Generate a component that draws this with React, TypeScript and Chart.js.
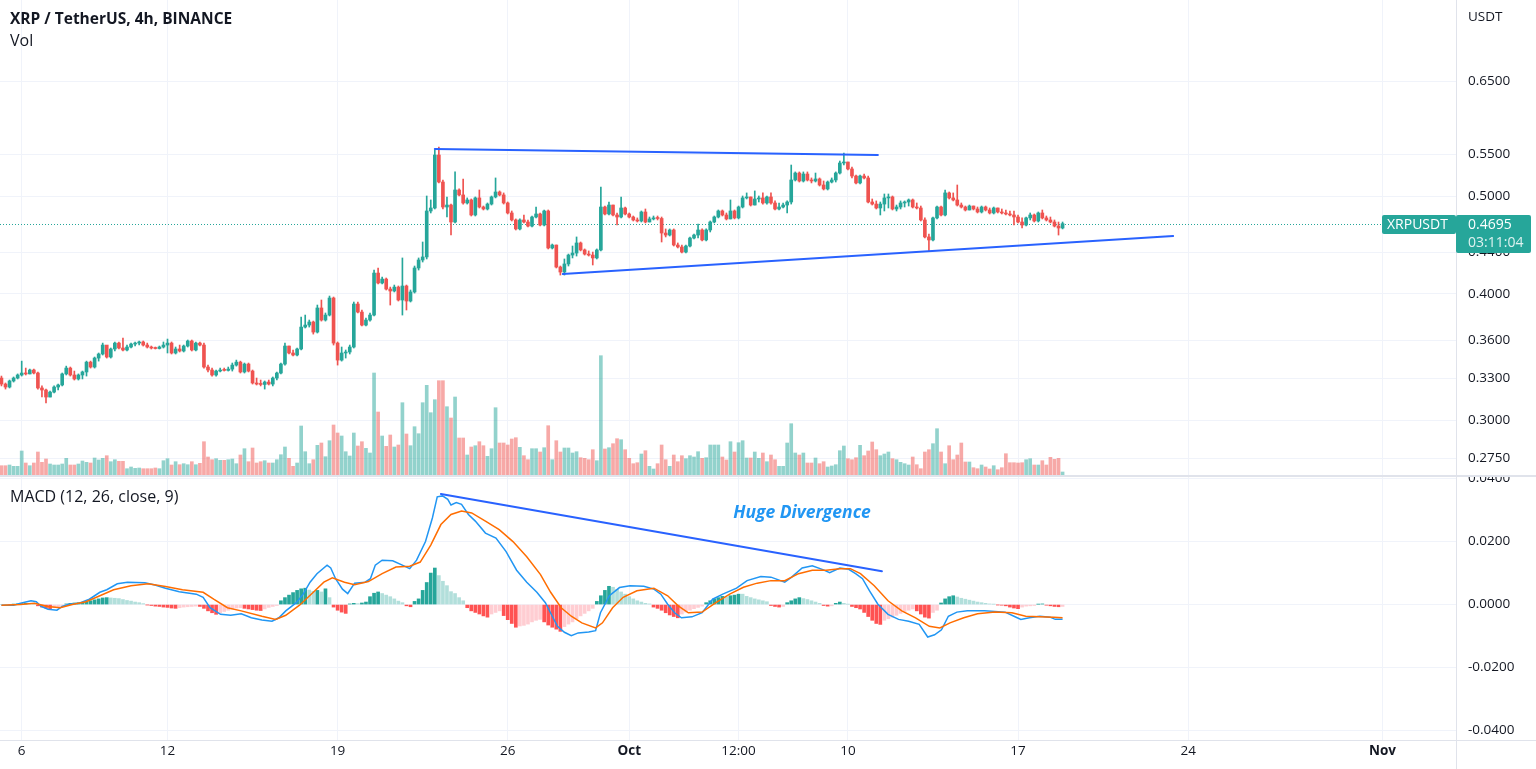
import React, { useEffect, useRef } from "react";
import { Chart, registerables } from "chart.js";

Chart.register(...registerables);

// ================= DATA =================
// 4h candles, index 0 = Sep 5 04:00, last index = Oct 18 20:00
const firstOpen = 0.3302;
const closes = [
  0.3257,0.3235,0.3280,0.3302,0.3325,0.3340,0.3333,0.3363,0.3340,0.3228,
  0.3213,0.3162,0.3198,0.3235,0.3250,0.3333,0.3378,0.3325,0.3295,0.3325,
  0.3348,0.3424,0.3386,0.3456,0.3488,0.3560,0.3464,0.3528,0.3576,0.3536,
  0.3520,0.3544,0.3568,0.3576,0.3585,0.3560,0.3544,0.3536,0.3532,0.3544,
  0.3560,0.3576,0.3496,0.3528,0.3512,0.3552,0.3593,0.3520,0.3576,0.3560,
  0.3386,0.3363,0.3325,0.3355,0.3363,0.3360,0.3370,0.3401,0.3424,0.3348,
  0.3409,0.3355,0.3265,0.3257,0.3254,0.3272,0.3257,0.3302,0.3340,0.3409,
  0.3552,0.3496,0.3480,0.3528,0.3709,0.3726,0.3752,0.3667,0.3874,0.3769,
  0.3812,0.3963,0.3576,0.3440,0.3496,0.3504,0.3544,0.3909,0.3838,0.3726,
  0.3769,0.3812,0.4195,0.4101,0.4138,0.4045,0.4027,0.4063,0.3945,0.4073,
  0.3936,0.4018,0.4244,0.4322,0.4352,0.4833,0.4866,0.5491,0.5163,0.4877,
  0.4899,0.4713,0.5070,0.5013,0.4922,0.4956,0.4789,0.4979,0.4877,0.4855,
  0.4910,0.4990,0.5047,0.5013,0.4922,0.4811,0.4735,0.4639,0.4735,0.4713,
  0.4670,0.4767,0.4800,0.4681,0.4833,0.4442,0.4472,0.4253,0.4205,0.4283,
  0.4371,0.4391,0.4493,0.4422,0.4381,0.4371,0.4342,0.4422,0.4877,0.4800,
  0.4899,0.4789,0.4767,0.4866,0.4800,0.4767,0.4735,0.4724,0.4822,0.4713,
  0.4746,0.4757,0.4751,0.4596,0.4575,0.4628,0.4472,0.4452,0.4401,0.4462,
  0.4544,0.4575,0.4628,0.4524,0.4628,0.4713,0.4767,0.4833,0.4789,0.4746,
  0.4833,0.4757,0.4877,0.4979,0.4990,0.4899,0.4967,0.4979,0.4922,0.4990,
  0.4922,0.4855,0.4877,0.4899,0.4933,0.5187,0.5270,0.5175,0.5258,0.5187,
  0.5175,0.5199,0.5128,0.5082,0.5163,0.5187,0.5270,0.5392,0.5404,0.5319,
  0.5234,0.5152,0.5234,0.5211,0.4933,0.4910,0.4866,0.4910,0.4979,0.4990,
  0.4855,0.4877,0.4922,0.4933,0.4956,0.4877,0.4866,0.4735,0.4555,0.4524,
  0.4757,0.4877,0.4789,0.5036,0.4979,0.4956,0.4899,0.4877,0.4844,0.4888,
  0.4855,0.4822,0.4877,0.4844,0.4811,0.4866,0.4822,0.4811,0.4800,0.4789,
  0.4767,0.4713,0.4681,0.4757,0.4789,0.4724,0.4811,0.4757,0.4735,0.4713,
  0.4670,0.4649,0.4695,
];
const highs = [
  0.3317,0.3265,0.3287,0.3310,0.3333,0.3432,0.3378,0.3370,0.3370,0.3348,
  0.3243,0.3220,0.3206,0.3243,0.3257,0.3340,0.3393,0.3386,0.3355,0.3333,
  0.3355,0.3432,0.3432,0.3464,0.3496,0.3576,0.3544,0.3536,0.3585,0.3585,
  0.3617,0.3560,0.3576,0.3585,0.3593,0.3593,0.3576,0.3552,0.3544,0.3552,
  0.3585,0.3609,0.3585,0.3544,0.3560,0.3560,0.3601,0.3601,0.3585,0.3585,
  0.3576,0.3401,0.3378,0.3363,0.3378,0.3378,0.3386,0.3417,0.3440,0.3432,
  0.3417,0.3417,0.3363,0.3302,0.3287,0.3280,0.3287,0.3310,0.3348,0.3417,
  0.3576,0.3552,0.3520,0.3536,0.3795,0.3812,0.3769,0.3760,0.3900,0.3945,
  0.3830,0.3981,0.3972,0.3585,0.3544,0.3520,0.3560,0.3927,0.3927,0.3856,
  0.3786,0.3830,0.4224,0.4244,0.4157,0.4148,0.4063,0.4082,0.4073,0.4342,
  0.4082,0.4036,0.4263,0.4342,0.4503,0.5001,0.4956,0.5554,0.5591,0.5187,
  0.4990,0.4910,0.5283,0.5082,0.5199,0.4979,0.4967,0.4990,0.5070,0.4888,
  0.4922,0.5001,0.5211,0.5059,0.5036,0.4933,0.4833,0.4746,0.4746,0.4789,
  0.4735,0.4778,0.4877,0.4811,0.4844,0.4844,0.4482,0.4472,0.4263,0.4332,
  0.4381,0.4462,0.4555,0.4503,0.4432,0.4412,0.4401,0.4432,0.5105,0.4888,
  0.4933,0.4899,0.4811,0.4990,0.4877,0.4811,0.4778,0.4757,0.4833,0.4855,
  0.4767,0.4778,0.4778,0.4767,0.4639,0.4639,0.4639,0.4493,0.4472,0.4472,
  0.4555,0.4586,0.4692,0.4639,0.4639,0.4724,0.4778,0.4844,0.4844,0.4811,
  0.4956,0.4844,0.4888,0.5001,0.5036,0.4990,0.5059,0.5001,0.5036,0.5001,
  0.5036,0.4945,0.4922,0.4922,0.4945,0.5367,0.5283,0.5283,0.5283,0.5283,
  0.5211,0.5270,0.5211,0.5175,0.5175,0.5211,0.5283,0.5416,0.5516,0.5404,
  0.5343,0.5246,0.5246,0.5258,0.5234,0.4967,0.4945,0.4933,0.5024,0.5024,
  0.5001,0.4899,0.4945,0.4945,0.4967,0.4967,0.4922,0.4888,0.4757,0.4586,
  0.4767,0.4888,0.4888,0.5070,0.5047,0.5036,0.5128,0.4922,0.4888,0.4899,
  0.4888,0.4877,0.4888,0.4888,0.4866,0.4877,0.4866,0.4855,0.4844,0.4833,
  0.4833,0.4789,0.4757,0.4767,0.4811,0.4800,0.4822,0.4844,0.4778,0.4767,
  0.4735,0.4713,0.4713,
];
const lows = [
  0.3243,0.3220,0.3228,0.3272,0.3295,0.3317,0.3325,0.3333,0.3333,0.3220,
  0.3162,0.3119,0.3162,0.3191,0.3213,0.3243,0.3325,0.3317,0.3287,0.3287,
  0.3295,0.3317,0.3378,0.3378,0.3432,0.3480,0.3456,0.3456,0.3512,0.3528,
  0.3512,0.3512,0.3536,0.3552,0.3560,0.3552,0.3536,0.3528,0.3528,0.3528,
  0.3536,0.3496,0.3488,0.3488,0.3504,0.3504,0.3544,0.3512,0.3512,0.3552,
  0.3378,0.3348,0.3317,0.3317,0.3348,0.3355,0.3355,0.3355,0.3393,0.3340,
  0.3340,0.3348,0.3257,0.3250,0.3243,0.3220,0.3250,0.3243,0.3287,0.3333,
  0.3401,0.3488,0.3472,0.3472,0.3520,0.3701,0.3709,0.3650,0.3659,0.3760,
  0.3760,0.3804,0.3560,0.3401,0.3432,0.3456,0.3488,0.3536,0.3830,0.3718,
  0.3718,0.3760,0.3804,0.4092,0.4092,0.4036,0.3900,0.4018,0.3936,0.3812,
  0.3856,0.3927,0.4008,0.4224,0.4302,0.4332,0.4811,0.4855,0.5152,0.4855,
  0.4767,0.4575,0.4703,0.5002,0.4910,0.4910,0.4778,0.4778,0.4866,0.4844,
  0.4844,0.4899,0.4979,0.5002,0.4910,0.4800,0.4724,0.4628,0.4628,0.4703,
  0.4660,0.4660,0.4757,0.4670,0.4670,0.4432,0.4432,0.4244,0.4176,0.4176,
  0.4263,0.4342,0.4361,0.4412,0.4371,0.4361,0.4273,0.4332,0.4412,0.4789,
  0.4789,0.4778,0.4681,0.4757,0.4789,0.4757,0.4724,0.4713,0.4713,0.4703,
  0.4713,0.4735,0.4735,0.4503,0.4555,0.4565,0.4462,0.4442,0.4391,0.4391,
  0.4452,0.4534,0.4544,0.4513,0.4513,0.4607,0.4703,0.4757,0.4778,0.4735,
  0.4746,0.4746,0.4746,0.4866,0.4967,0.4888,0.4899,0.4933,0.4910,0.4910,
  0.4910,0.4844,0.4844,0.4866,0.4811,0.4910,0.5175,0.5163,0.5163,0.5175,
  0.5152,0.5163,0.5116,0.5070,0.5070,0.5152,0.5163,0.5258,0.5367,0.5307,
  0.5211,0.5140,0.5140,0.5199,0.4922,0.4899,0.4855,0.4789,0.4833,0.4866,
  0.4844,0.4833,0.4855,0.4877,0.4888,0.4866,0.4855,0.4724,0.4544,0.4412,
  0.4513,0.4746,0.4778,0.4778,0.4967,0.4945,0.4888,0.4866,0.4833,0.4844,
  0.4844,0.4811,0.4811,0.4833,0.4800,0.4800,0.4811,0.4800,0.4789,0.4778,
  0.4681,0.4703,0.4649,0.4670,0.4735,0.4713,0.4713,0.4746,0.4724,0.4703,
  0.4660,0.4575,0.4639,
];
// volume per candle (millions)
const volumes = [
  9.3,9.3,10,8.7,8.7,24,12,9.3,12,23,
  12.7,16,11,10,10,11,16.7,10,10,11,
  14,12.7,12,17,15,16.7,19.3,13.3,15.3,13.7,
  13.7,6.3,8,6.7,7,6.3,6.3,6.3,7,6.3,
  14.3,16.3,10,13.3,10.3,11.3,10.3,13.3,10.3,11.7,
  33.3,18,15.3,16.3,14.7,14.7,15.3,16,11.3,20,
  26.3,13.3,27,12,13.3,14.3,12,12,15.3,20.3,
  28,16.7,8.7,12,49,23.3,11.3,15.3,29.7,32,
  18.3,34.3,50,42,39,23.3,19,42,29,33.3,
  26.7,22,102,63,39,28.7,40,28,30,72.3,
  41,29.3,48.3,41.3,72.3,89.7,62.3,75.3,94.3,94.3,
  68.3,57,78,37,37,20,28,29.3,33.3,29.3,
  18.7,26.3,67.3,32,32,30,36,37.3,27.7,19.3,
  15.3,26.3,26.3,23,27.3,49.3,15.3,34.3,23,27,
  27,22,23.3,17.3,16.7,15.3,25.3,14.3,119.3,26,
  27.3,31.3,36.3,35.3,25.3,16.7,11.3,12.3,21,24.3,
  8.7,6,11.3,30,15.3,8.7,20,13.3,19.3,16.3,
  19.3,18,23.3,16.7,17.3,30,30,30,18,15,
  33.3,23,32.3,34.3,17,17,23,16.7,22,13.3,
  20,15.3,8.7,8.7,32,51.3,22,20,22,12,
  12,17,11.3,13.3,8,9,10.3,24.3,29,16.3,
  15.3,17.3,29.7,19.3,24,33,25.3,19.3,21,23,
  16.3,15.3,12.7,11.3,10,18,10.3,6.3,23,25.3,
  31.3,46.3,23,11.3,29.3,15.3,20,32,13,13,
  7.3,6.3,10,8,6,9.3,5.3,7.3,21.3,12.3,
  12.3,12,12.3,15.3,16.3,10,10,14.3,10,17.7,
  15.7,16.7,3,
];
// MACD histogram per candle
const histogram = [
  0.0000,0.0000,-0.0001,0.0001,0.0002,0.0003,0.0004,0.0004,0.0003,-0.0004,
  -0.0008,-0.0011,-0.0013,-0.0010,-0.0007,-0.0004,0.0002,0.0004,0.0005,0.0006,
  0.0007,0.0009,0.0012,0.0015,0.0018,0.0021,0.0022,0.0021,0.0020,0.0019,
  0.0016,0.0013,0.0011,0.0008,0.0006,0.0003,-0.0001,-0.0003,-0.0005,-0.0006,
  -0.0008,-0.0009,-0.0011,-0.0012,-0.0010,-0.0008,-0.0007,-0.0006,-0.0005,-0.0006,
  -0.0012,-0.0020,-0.0026,-0.0031,-0.0026,-0.0022,-0.0018,-0.0014,-0.0011,-0.0010,
  -0.0012,-0.0014,-0.0016,-0.0018,-0.0019,-0.0014,-0.0009,-0.0006,-0.0003,0.0012,
  0.0022,0.0030,0.0038,0.0045,0.0050,0.0052,0.0046,0.0042,0.0045,0.0040,
  0.0050,0.0022,-0.0008,-0.0018,-0.0024,-0.0028,0.0002,0.0004,0.0003,0.0005,
  0.0008,0.0025,0.0036,0.0040,0.0035,0.0030,0.0025,0.0018,0.0011,0.0006,
  -0.0004,-0.0007,0.0010,0.0018,0.0045,0.0070,0.0100,0.0116,0.0092,0.0074,
  0.0060,0.0041,0.0035,0.0022,0.0012,-0.0010,-0.0020,-0.0025,-0.0030,-0.0036,
  -0.0040,-0.0030,-0.0025,-0.0020,-0.0035,-0.0048,-0.0060,-0.0072,-0.0068,-0.0066,
  -0.0062,-0.0055,-0.0050,-0.0047,-0.0055,-0.0065,-0.0072,-0.0078,-0.0085,-0.0070,
  -0.0062,-0.0055,-0.0045,-0.0036,-0.0028,-0.0020,-0.0012,0.0010,0.0028,0.0045,
  0.0058,0.0055,0.0048,0.0040,0.0033,0.0025,0.0018,0.0012,0.0008,0.0004,
  0.0002,-0.0008,-0.0012,-0.0018,-0.0026,-0.0033,-0.0038,-0.0042,-0.0030,-0.0024,
  -0.0018,-0.0013,-0.0009,-0.0005,0.0006,0.0012,0.0018,0.0022,0.0026,0.0024,
  0.0028,0.0030,0.0033,0.0033,0.0026,0.0022,0.0018,0.0015,0.0012,0.0009,
  -0.0003,-0.0006,-0.0008,-0.0006,0.0006,0.0012,0.0018,0.0022,0.0019,0.0016,
  0.0012,0.0008,0.0004,-0.0003,-0.0005,-0.0004,0.0004,0.0008,0.0004,0.0001,
  -0.0006,-0.0010,-0.0014,-0.0025,-0.0038,-0.0050,-0.0060,-0.0063,-0.0050,-0.0045,
  -0.0040,-0.0034,-0.0028,-0.0022,-0.0018,-0.0014,-0.0020,-0.0030,-0.0040,-0.0043,
  -0.0025,-0.0018,0.0005,0.0018,0.0025,0.0028,0.0024,0.0020,0.0017,0.0014,
  0.0011,0.0008,0.0006,0.0004,0.0002,0.0001,-0.0001,-0.0002,-0.0004,-0.0008,
  -0.0011,-0.0013,-0.0008,-0.0005,-0.0004,-0.0003,0.0001,0.0002,-0.0002,-0.0004,
  -0.0006,-0.0007,-0.0006,
];
// MACD line, read at these candle positions
const macdIdx = [
  0,3,4.7,7.3,8.6,9.8,11.5,13.7,15,16.6,19.2,21.7,24.3,26,28.6,31.1,35.4,37.9,40.5,43.9,
  48.1,49.8,51.5,54.1,56.6,59.2,61.7,64.3,66.8,68.5,70.2,72.8,74.5,76.2,77.9,80.4,81.3,82.5,84.2,85.5,
  87.2,89.8,91.1,92.3,94,96.6,98.7,100.8,102.5,104.7,106.4,107.6,108.9,110.2,111,112.3,113.6,115.3,117,119.5,
  122.1,124.6,127.2,129.7,132.2,134.3,136,137.3,139,140.7,142.4,145,146.7,147.9,150.1,152.6,155.2,158.6,161.1,162.8,
  164.5,166.2,167.9,170.5,173,175.6,178.1,181.5,184.1,187.5,190,193.4,195.1,197.7,200.2,202.8,204.5,207,209.2,210.9,
  212.6,214.3,216.4,218.9,221.5,224,226.6,228.7,230.4,232.1,233.8,235.9,238.5,242.7,247.8,250,251.7,253.8,256.4,258.9,
  260.2,262,
];
const macdVal = [
  -0.0002,-0.0002,0.0004,0.0012,0.0009,-0.0006,-0.0015,-0.0018,-0.0006,0.0001,0.0004,0.0017,0.0039,0.0047,0.0066,0.0071,0.0069,0.0062,0.0052,0.0041,
  0.0033,0.0023,-0.0010,-0.0031,-0.0034,-0.0029,-0.0042,-0.0049,-0.0053,-0.0042,-0.0020,0.0006,0.0033,0.0071,0.0098,0.0125,0.0116,0.0082,0.0049,0.0035,
  0.0068,0.0071,0.0082,0.0125,0.0141,0.0139,0.0127,0.0114,0.0141,0.0200,0.0275,0.0342,0.0345,0.0334,0.0316,0.0324,0.0318,0.0286,0.0265,0.0227,
  0.0211,0.0168,0.0109,0.0071,0.0039,0.0006,-0.0037,-0.0069,-0.0088,-0.0099,-0.0090,-0.0087,-0.0083,-0.0026,0.0028,0.0054,0.0060,0.0058,0.0049,0.0033,
  0.0001,-0.0026,-0.0042,-0.0039,-0.0026,0.0017,0.0033,0.0052,0.0076,0.0089,0.0087,0.0071,0.0087,0.0116,0.0123,0.0111,0.0101,0.0116,0.0112,0.0098,
  0.0082,0.0044,0.0001,-0.0031,-0.0047,-0.0053,-0.0063,-0.0103,-0.0096,-0.0080,-0.0037,-0.0024,-0.0020,-0.0020,-0.0024,-0.0037,-0.0047,-0.0042,-0.0037,-0.0040,
  -0.0047,-0.0047,
];
// signal line, read at these candle positions
const signalIdx = [
  0,4.7,8.1,11.5,14.5,17.5,20.9,24.3,27.7,32,36.2,40.5,44.7,49.8,52.4,55.8,59.2,64.3,67.7,70.2,
  73.6,77,79.6,81.7,84.7,87.2,90.6,94,97.4,100.8,103.4,106,108.5,111,113.6,116.1,119.5,122.9,126.3,129.7,
  133.1,135.6,138.2,140.7,143.3,146.7,148.4,150.9,153.5,156.9,161.1,164.5,167.1,169.6,173,176.4,179.8,183.2,186.6,190,
  193.4,196.8,200.2,203.6,207,209.6,212.1,215.5,218.9,222.3,225.7,229.1,231.7,234.2,237.6,241,245.3,249.5,252.9,256.4,
  259.8,262,
];
const signalVal = [
  -0.0002,0.0000,0.0004,-0.0006,-0.0010,0.0000,0.0009,0.0028,0.0047,0.0060,0.0066,0.0057,0.0047,0.0039,0.0017,-0.0010,-0.0020,-0.0037,-0.0047,-0.0034,
  -0.0002,0.0039,0.0071,0.0085,0.0071,0.0063,0.0073,0.0098,0.0119,0.0122,0.0135,0.0189,0.0254,0.0286,0.0297,0.0291,0.0265,0.0238,0.0200,0.0152,
  0.0095,0.0039,-0.0010,-0.0037,-0.0058,-0.0074,-0.0058,-0.0010,0.0023,0.0044,0.0052,0.0028,-0.0004,-0.0026,-0.0024,0.0006,0.0033,0.0055,0.0068,0.0076,
  0.0076,0.0098,0.0109,0.0109,0.0114,0.0114,0.0098,0.0060,0.0012,-0.0020,-0.0042,-0.0069,-0.0074,-0.0058,-0.0042,-0.0029,-0.0024,-0.0026,-0.0037,-0.0039,
  -0.0040,-0.0042,
];
const priceTicks = [0.65, 0.55, 0.5, 0.44, 0.4, 0.36, 0.33, 0.3, 0.275];
const macdTicks = [0.04, 0.02, 0, -0.02, -0.04];
const timeTickIdx = [5, 41, 83, 125, 155, 182, 209, 251, 293, 341];
const timeTickLabels = ["6", "12", "19", "26", "Oct", "12:00", "10", "17", "24", "Nov"];
const lastPrice = 0.4695;
const countdown = "03:11:04";
const symbolLabel = "XRPUSDT";
const titleText = "XRP / TetherUS, 4h, BINANCE";
const volLabel = "Vol";
const currencyLabel = "USDT";
const macdTitle = "MACD (12, 26, close, 9)";
const noteText = "Huge Divergence";
// drawn trend lines: [idx1, value1, idx2, value2]
const resistanceLine = [107.0, 0.5567, 216.4, 0.5491];
const supportLine = [138.6, 0.4186, 289.3, 0.4565];
const macdTrendLine = [108.5, 0.0351, 217.4, 0.0106];

// ================= STYLE / LAYOUT =================
const W = 1536;
const PRICE_H = 476;
const MACD_H = 293;
const AXIS_W = 80;
const X_MIN = -0.358;
const X_MAX = 359.14;
const P_MIN = 0.2647;
const P_MAX = 0.7819;
const VOL_MAX = 475;
const M_MIN = -0.043;
const M_MAX = 0.0405;
const FONT = "'Open Sans', 'DejaVu Sans', sans-serif";
const TEXT = "#131722";
const GRID = "#F0F3FA";
const SEP = "#E0E3EB";
const UP = "#26A69A";
const DOWN = "#EF5350";
const UP_VOL = "rgba(38,166,154,0.5)";
const DOWN_VOL = "rgba(239,83,80,0.5)";
const TREND = "#2962FF";
const MACD_COLOR = "#2196F3";
const SIGNAL_COLOR = "#FF6D00";

const idx = closes.map((_, k) => k);
const opens = closes.map((c, k) => (k === 0 ? firstOpen : closes[k - 1]));
const isUp = idx.map((k) => closes[k] >= opens[k]);

function drawSegment(chart: any, yId: string, seg: number[]) {
  const { ctx, scales } = chart;
  const x1 = scales.x.getPixelForValue(seg[0]);
  const y1 = scales[yId].getPixelForValue(seg[1]);
  const x2 = scales.x.getPixelForValue(seg[2]);
  const y2 = scales[yId].getPixelForValue(seg[3]);
  ctx.save();
  ctx.strokeStyle = TREND;
  ctx.lineWidth = 2;
  ctx.lineCap = "round";
  ctx.beginPath();
  ctx.moveTo(x1, y1);
  ctx.lineTo(x2, y2);
  ctx.stroke();
  ctx.restore();
}

function box(ctx: any, x: number, y: number, w: number, h: number, r: number) {
  ctx.beginPath();
  if (ctx.roundRect) ctx.roundRect(x, y, w, h, r);
  else ctx.rect(x, y, w, h);
  ctx.fill();
}

const priceOverlay = {
  id: "priceOverlay",
  beforeDatasetsDraw(chart: any) {
    const { ctx, chartArea, scales } = chart;
    const y = Math.round(scales.y.getPixelForValue(lastPrice)) + 0.5;
    ctx.save();
    ctx.strokeStyle = UP;
    ctx.lineWidth = 1;
    ctx.setLineDash([1, 2]);
    ctx.beginPath();
    ctx.moveTo(chartArea.left, y);
    ctx.lineTo(chartArea.right, y);
    ctx.stroke();
    ctx.restore();
  },
  afterDatasetsDraw(chart: any) {
    drawSegment(chart, "y", resistanceLine);
    drawSegment(chart, "y", supportLine);
  },
  afterDraw(chart: any) {
    const { ctx, chartArea, scales, width, height } = chart;
    ctx.save();
    ctx.fillStyle = SEP;
    ctx.fillRect(0, height - 1, width, 1);
    ctx.fillRect(chartArea.right, 0, 1, height);
    ctx.textBaseline = "middle";
    ctx.textAlign = "left";
    ctx.fillStyle = TEXT;
    ctx.font = `bold 15.5px ${FONT}`;
    ctx.fillText(titleText, 10, 20);
    ctx.font = `16px ${FONT}`;
    ctx.fillText(volLabel, 10, 41);
    ctx.font = `13.5px ${FONT}`;
    ctx.fillText(currencyLabel, chartArea.right + 12, 17);
    const py = Math.round(scales.y.getPixelForValue(lastPrice));
    const top = py - 9;
    ctx.fillStyle = UP;
    box(ctx, chartArea.right - 74, top, 74, 19, 2);
    box(ctx, chartArea.right, top, 75, 38, 2);
    ctx.fillStyle = "#ffffff";
    ctx.font = `14px ${FONT}`;
    ctx.fillText(symbolLabel, chartArea.right - 69, top + 10);
    ctx.fillText(lastPrice.toFixed(4), chartArea.right + 12, top + 10);
    ctx.fillStyle = "rgba(255,255,255,0.85)";
    ctx.fillText(countdown, chartArea.right + 12, top + 28);
    ctx.restore();
  },
};

const macdOverlay = {
  id: "macdOverlay",
  afterDatasetsDraw(chart: any) {
    drawSegment(chart, "y", macdTrendLine);
  },
  afterDraw(chart: any) {
    const { ctx, chartArea, width, height } = chart;
    ctx.save();
    ctx.fillStyle = SEP;
    ctx.fillRect(0, 0, width, 1);
    ctx.fillRect(0, chartArea.bottom, width, 1);
    ctx.fillRect(chartArea.right, 0, 1, height);
    ctx.textBaseline = "middle";
    ctx.textAlign = "left";
    ctx.fillStyle = TEXT;
    ctx.font = `16px ${FONT}`;
    ctx.fillText(macdTitle, 10, 21);
    ctx.textAlign = "center";
    ctx.fillStyle = MACD_COLOR;
    ctx.font = `italic bold 17.5px ${FONT}`;
    ctx.fillText(noteText, 802, 37);
    ctx.restore();
  },
};

function priceConfig(): any {
  return {
    type: "bar",
    data: {
      datasets: [
        {
          label: "vol",
          data: idx.map((k) => ({ x: k, y: volumes[k] })),
          backgroundColor: idx.map((k) => (isUp[k] ? UP_VOL : DOWN_VOL)),
          yAxisID: "vol",
          barThickness: 3,
          grouped: false,
          order: 3,
        },
        {
          label: "wick",
          data: idx.map((k) => ({ x: k, y: [lows[k], highs[k]] })),
          backgroundColor: idx.map((k) => (isUp[k] ? UP : DOWN)),
          yAxisID: "y",
          barThickness: 1,
          grouped: false,
          order: 2,
        },
        {
          label: "body",
          data: idx.map((k) => ({ x: k, y: [opens[k], closes[k]] })),
          backgroundColor: idx.map((k) => (isUp[k] ? UP : DOWN)),
          yAxisID: "y",
          barThickness: 3,
          minBarLength: 1,
          grouped: false,
          order: 1,
        },
      ],
    },
    options: {
      animation: false,
      responsive: false,
      maintainAspectRatio: false,
      layout: { padding: { left: 0, right: 0, top: 0, bottom: 1 } },
      plugins: { legend: { display: false }, tooltip: { enabled: false } },
      scales: {
        x: {
          type: "linear",
          min: X_MIN,
          max: X_MAX,
          offset: false,
          afterBuildTicks: (s: any) => {
            s.ticks = timeTickIdx.map((v) => ({ value: v }));
          },
          afterFit: (s: any) => {
            s.height = 0;
            s.paddingLeft = 0;
            s.paddingRight = 0;
          },
          ticks: { display: false },
          grid: { color: GRID, drawTicks: false, offset: false },
          border: { display: false },
        },
        y: {
          type: "logarithmic",
          position: "right",
          min: P_MIN,
          max: P_MAX,
          afterBuildTicks: (s: any) => {
            s.ticks = priceTicks.map((v) => ({ value: v }));
          },
          afterFit: (s: any) => {
            s.width = AXIS_W;
            s.paddingTop = 0;
            s.paddingBottom = 0;
          },
          ticks: {
            callback: (v: any) => Number(v).toFixed(4),
            color: TEXT,
            font: { family: FONT, size: 13.5 },
            padding: 12,
            autoSkip: false,
          },
          grid: { color: GRID, drawTicks: false },
          border: { display: false },
        },
        vol: {
          type: "linear",
          display: false,
          min: 0,
          max: VOL_MAX,
        },
      },
    },
    plugins: [priceOverlay],
  };
}

function macdConfig(): any {
  const histColors = histogram.map((h, i) => {
    const prev = i > 0 ? histogram[i - 1] : h;
    if (h >= 0) return prev < h ? "#26A69A" : "#B2DFDB";
    return prev < h ? "#FFCDD2" : "#FF5252";
  });
  return {
    type: "bar",
    data: {
      datasets: [
        {
          label: "hist",
          data: histogram.map((h, k) => ({ x: k, y: h })),
          backgroundColor: histColors,
          barThickness: 3,
          grouped: false,
          order: 2,
        },
        {
          type: "line",
          label: "macd",
          data: macdIdx.map((x, i) => ({ x, y: macdVal[i] })),
          borderColor: MACD_COLOR,
          borderWidth: 1.5,
          pointRadius: 0,
          tension: 0,
          fill: false,
          order: 1,
        },
        {
          type: "line",
          label: "signal",
          data: signalIdx.map((x, i) => ({ x, y: signalVal[i] })),
          borderColor: SIGNAL_COLOR,
          borderWidth: 1.5,
          pointRadius: 0,
          tension: 0,
          fill: false,
          order: 0,
        },
      ],
    },
    options: {
      animation: false,
      responsive: false,
      maintainAspectRatio: false,
      layout: { padding: { left: 0, right: 0, top: 1, bottom: 0 } },
      plugins: { legend: { display: false }, tooltip: { enabled: false } },
      scales: {
        x: {
          type: "linear",
          min: X_MIN,
          max: X_MAX,
          offset: false,
          afterBuildTicks: (s: any) => {
            s.ticks = timeTickIdx.map((v) => ({ value: v }));
          },
          afterFit: (s: any) => {
            s.height = 29;
            s.paddingLeft = 0;
            s.paddingRight = 0;
          },
          ticks: {
            callback: (_v: any, i: number) => timeTickLabels[i],
            color: TEXT,
            font: (c: any) => ({
              family: FONT,
              size: 13.5,
              weight: /^[A-Za-z]/.test(timeTickLabels[c.index] || "") ? "bold" : "normal",
            }),
            padding: 3,
            autoSkip: false,
            maxRotation: 0,
          },
          grid: { color: GRID, drawTicks: false, offset: false },
          border: { display: false },
        },
        y: {
          type: "linear",
          position: "right",
          min: M_MIN,
          max: M_MAX,
          afterBuildTicks: (s: any) => {
            s.ticks = macdTicks.map((v) => ({ value: v }));
          },
          afterFit: (s: any) => {
            s.width = AXIS_W;
            s.paddingTop = 0;
            s.paddingBottom = 0;
          },
          ticks: {
            callback: (v: any) => {
              const n = Number(v);
              return (Math.abs(n) < 1e-9 ? 0 : n).toFixed(4);
            },
            color: TEXT,
            font: { family: FONT, size: 13.5 },
            padding: 12,
            autoSkip: false,
          },
          grid: { color: GRID, drawTicks: false },
          border: { display: false },
        },
      },
    },
    plugins: [macdOverlay],
  };
}

export default function App() {
  const priceRef = useRef<HTMLCanvasElement>(null);
  const macdRef = useRef<HTMLCanvasElement>(null);
  useEffect(() => {
    const pc = new Chart(priceRef.current as HTMLCanvasElement, priceConfig());
    const mc = new Chart(macdRef.current as HTMLCanvasElement, macdConfig());
    return () => {
      pc.destroy();
      mc.destroy();
    };
  }, []);
  return (
    <div
      style={{
        position: "absolute",
        left: 0,
        top: 0,
        width: W,
        height: 769,
        background: "#ffffff",
        overflow: "hidden",
      }}
    >
      <canvas ref={priceRef} width={W} height={PRICE_H} style={{ display: "block", width: W, height: PRICE_H }} />
      <canvas ref={macdRef} width={W} height={MACD_H} style={{ display: "block", width: W, height: MACD_H }} />
    </div>
  );
}
